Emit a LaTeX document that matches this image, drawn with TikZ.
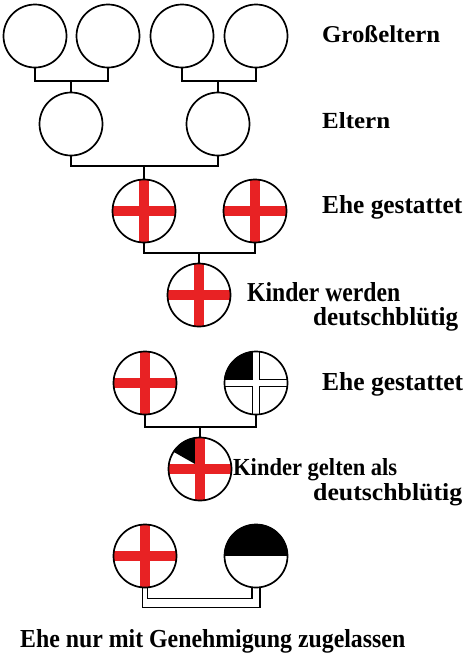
\documentclass[tikz,border=0pt]{standalone}
\usepackage{fontspec}
\setmainfont{Liberation Serif}
\usepackage{graphicx}
\definecolor{crossred}{RGB}{232,34,36}
\newcommand{\frk}[3]{\resizebox{#1pt}{#2pt}{\bfseries #3}}
\newcommand{\redcrossat}[2]{%
  \begin{scope}[shift={(#1,#2)}]
    \clip (0,0) circle (32);
    \fill[crossred] (-5,-40) rectangle (5,40);
    \fill[crossred] (-40,-5) rectangle (40,5);
  \end{scope}}
\begin{document}
\begin{tikzpicture}[x=1pt,y=-1pt,
  person/.style={circle,draw=black,line width=1.7pt,minimum size=63pt,inner sep=0pt},
  link/.style={draw=black,line width=1.2pt},
  label/.style={anchor=base west,inner sep=0pt}]
\useasboundingbox[fill=white] (0,0) rectangle (471,654);

% generation 1 and 2
\node[person] (g1) at (35,36) {};
\node[person] (g2) at (108,36) {};
\node[person] (g3) at (182,36) {};
\node[person] (g4) at (256,36) {};
\node[person] (p1) at (71,124) {};
\node[person] (p2) at (218,124) {};
\coordinate (j1) at (71,81);
\coordinate (j2) at (218,81);
\draw[link] (g1.south) |- (j1) -| (g2.south);
\draw[link] (j1) -- (p1.north);
\draw[link] (g3.south) |- (j2) -| (g4.south);
\draw[link] (j2) -- (p2.north);

% row 3
\redcrossat{144}{211}
\redcrossat{255}{211}
\node[person] (a1) at (144,211) {};
\node[person] (a2) at (255,211) {};
\coordinate (j3) at (144,166);
\draw[link] (p1.south) |- (j3) -| (p2.south);
\draw[link] (j3) -- (a1.north);

\redcrossat{199}{295}
\node[person] (c1) at (199,295) {};
\coordinate (j4) at (199,253);
\draw[link] (a1.south) |- (j4) -| (a2.south);
\draw[link] (j4) -- (c1.north);

% row 5
\redcrossat{145}{383}
\begin{scope}[shift={(256,383)}]
  \clip (0,0) circle (32);
  \fill[black] (-3.5,-3.5) rectangle (-40,-40);
  \draw[line width=1.1pt] (-3.5,-40) -- (-3.5,-3.5) -- (-40,-3.5)
                          (3.5,-40) -- (3.5,-3.5) -- (40,-3.5)
                          (-40,3.5) -- (-3.5,3.5) -- (-3.5,40)
                          (40,3.5) -- (3.5,3.5) -- (3.5,40);
\end{scope}
\node[person] (d1) at (145,383) {};
\node[person] (d2) at (256,383) {};
\coordinate (j5) at (200,427);
\draw[link] (d1.south) |- (j5) -| (d2.south);

\begin{scope}[shift={(200,469)}]
  \clip (0,0) circle (32);
  \fill[black] (-5,-5) -- (-5,-40) -- (-49,-40) -- (-49,-30) -- cycle;
\end{scope}
\redcrossat{200}{469}
\node[person] (f1) at (200,469) {};
\draw[link] (j5) -- (f1.north);

% row 7
\redcrossat{145}{556}
\begin{scope}[shift={(256,556)}]
  \clip (0,0) circle (32);
  \fill[black] (-40,-40) rectangle (40,0);
\end{scope}
\node[person] (h1) at (145,556) {};
\node[person] (h2) at (256,556) {};
\draw[link] (h1.-85) -- ++(0,10) -| (h2.-97);
\draw[link] (h1.-95) -- ++(0,19) -| (h2.-83);

% labels
\node[label] (t1) at (322,42) {\frk{118}{17}{Großeltern}};
\node[label] (t2) at (322,128) {\frk{68}{16}{Eltern}};
\node[label] (t3) at (322,213) {\frk{140}{18}{Ehe gestattet}};
\node[label] (t4) at (247,301) {\frk{153}{19}{Kinder werden}};
\node[label] (t5) at (313,325) {\frk{145}{18}{deutschblütig}};
\node[label] (t6) at (322,390) {\frk{141}{18}{Ehe gestattet}};
\node[label] (t7) at (233,475) {\frk{164}{17}{Kinder gelten als}};
\node[label] (t8) at (313,500) {\frk{149}{17}{deutschblütig}};
\node[label] (t9) at (20,647) {\frk{385}{18}{Ehe nur mit Genehmigung zugelassen}};
\end{tikzpicture}
\end{document}
